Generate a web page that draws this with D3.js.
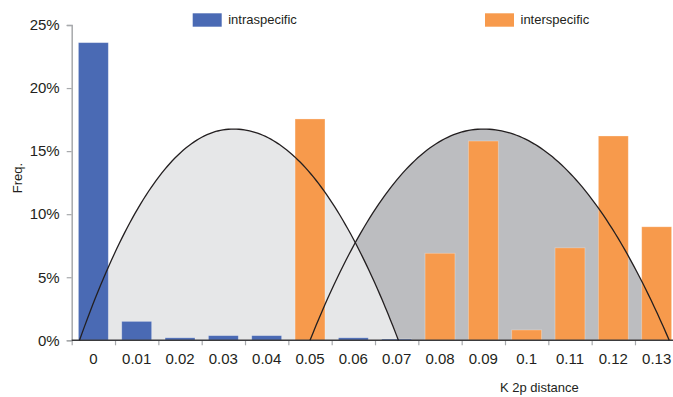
<!DOCTYPE html>
<html><head><meta charset="utf-8">
<script src="https://cdn.jsdelivr.net/npm/d3@7"></script>
<style>body{margin:0;background:#fff}svg{display:block}text{font-family:"Liberation Sans",Arial,sans-serif;fill:#231f20}</style>
</head><body><svg id="c" width="673" height="397"></svg>
<script>
const categories = ["0","0.01","0.02","0.03","0.04","0.05","0.06","0.07","0.08","0.09","0.1","0.11","0.12","0.13"];
const intraspecific = [23.6,1.5,0.2,0.37,0.37,0,0.2,0.1,0,0,0,0,0,0];
const interspecific = [0,0,0,0,0,17.55,0,0,6.9,15.8,0.82,7.33,16.2,9.0];
const yTicks = [0,5,10,15,20,25];
const seriesNames = ["intraspecific","interspecific"];
// fitted envelopes: [start distance, peak distance, end distance, peak freq %]
const envelopeIntra = [-0.0032, 0.0323, 0.0704, 16.75];
const envelopeInter = [0.0500, 0.0900, 0.1329, 16.75];

const colors = {intra:"#4a6ab4", inter:"#f79a4c", fillIntra:"#e6e7e8", fillInter:"#bcbdc0"};
const svg = d3.select("#c");
const left = 71.7, step = 43.33, right = left + step*categories.length;
const x = d3.scaleBand().domain(categories).range([left,right]).paddingInner(0.31).paddingOuter(0.155);
const y = d3.scaleLinear().domain([0,25]).range([340.3,25]);
const xd = d3.scaleLinear().domain([0,0.13]).range([x("0")+x.bandwidth()/2, x("0.13")+x.bandwidth()/2]);

function envPoints(e){
  const [s,p,en,h]=e, pts=[], n=120;
  for(let i=0;i<=n;i++){
    const d = s + (en-s)*i/n;
    const t = d<p ? (p-d)/(p-s) : (d-p)/(en-p);
    pts.push([d, h*(1-Math.pow(Math.min(1,t),2.05))]);
  }
  return pts;
}
const area = d3.area().x(d=>xd(d[0])).y0(y(0)).y1(d=>y(d[1]));
const line = d3.line().x(d=>xd(d[0])).y(d=>y(d[1]));
const p1 = envPoints(envelopeIntra), p2 = envPoints(envelopeInter);
svg.append("path").attr("d",area(p2)).attr("fill",colors.fillInter);
svg.append("path").attr("d",area(p1)).attr("fill",colors.fillIntra);

// y axis
const yAxis = d3.axisLeft(y).tickValues(yTicks).tickSize(5).tickPadding(7).tickFormat(d=>d+"%");
const gy = svg.append("g").attr("transform",`translate(${left},0)`).call(yAxis);
gy.select(".domain").attr("stroke","#a7a9ac").attr("stroke-width",1.5);
gy.selectAll(".tick line").attr("stroke","#a7a9ac").attr("stroke-width",1.2);
gy.selectAll(".tick text").attr("font-size",15).attr("font-family","Liberation Sans, Arial, sans-serif").attr("fill","#231f20");

// bars
const rows = categories.map((c,i)=>({c, a:intraspecific[i], b:interspecific[i]}));
svg.append("g").selectAll("rect.a").data(rows.filter(r=>r.a>0)).join("rect")
  .attr("x",d=>x(d.c)).attr("width",x.bandwidth()).attr("y",d=>y(d.a)).attr("height",d=>y(0)-y(d.a))
  .attr("fill",colors.intra).attr("stroke","#fff").attr("stroke-opacity",0.35).attr("stroke-width",0.8);
svg.append("g").selectAll("rect.b").data(rows.filter(r=>r.b>0)).join("rect")
  .attr("x",d=>x(d.c)).attr("width",x.bandwidth()).attr("y",d=>y(d.b)).attr("height",d=>y(0)-y(d.b))
  .attr("fill",colors.inter).attr("stroke","#fff").attr("stroke-opacity",0.35).attr("stroke-width",0.8);

// x axis: boundary ticks + centered labels
const xb = d3.scaleLinear().domain([0,categories.length]).range([left,right]);
const gxt = svg.append("g").attr("transform",`translate(0,${y(0)})`)
  .call(d3.axisBottom(xb).tickValues(d3.range(categories.length+1)).tickSize(5).tickFormat(""));
gxt.select(".domain").remove();
gxt.selectAll(".tick line").attr("stroke","#a7a9ac").attr("stroke-width",1.2);
svg.append("line").attr("x1",left).attr("x2",right).attr("y1",y(0)).attr("y2",y(0)).attr("stroke","#3a3a3c").attr("stroke-width",1.6);
const xLab = d3.scaleBand().domain(categories).range([left,right]);
const gx = svg.append("g").attr("transform",`translate(0,${y(0)})`)
  .call(d3.axisBottom(xLab).tickSize(0).tickPadding(13));
gx.select(".domain").remove();
gx.selectAll(".tick text").attr("font-size",15).attr("font-family","Liberation Sans, Arial, sans-serif").attr("fill","#231f20");

// envelope outlines
svg.append("path").attr("d",line(p2)).attr("fill","none").attr("stroke","#231f20").attr("stroke-width",1.3);
svg.append("path").attr("d",line(p1)).attr("fill","none").attr("stroke","#231f20").attr("stroke-width",1.3);

// axis titles
svg.append("text").attr("x",500).attr("y",392).attr("font-size",13).text("K 2p distance");
svg.append("text").attr("transform","translate(22,178) rotate(-90)").attr("text-anchor","middle").attr("font-size",13).text("Freq.");

// legend
const leg = [{n:seriesNames[0],c:colors.intra,x:192.7},{n:seriesNames[1],c:colors.inter,x:485}];
const lg = svg.append("g").selectAll("g").data(leg).join("g").attr("transform",d=>`translate(${d.x},13.3)`);
lg.append("rect").attr("width",29).attr("height",13.4).attr("fill",d=>d.c);
lg.append("text").attr("x",35.5).attr("y",10.4).attr("font-size",13).text(d=>d.n);
</script></body></html>
